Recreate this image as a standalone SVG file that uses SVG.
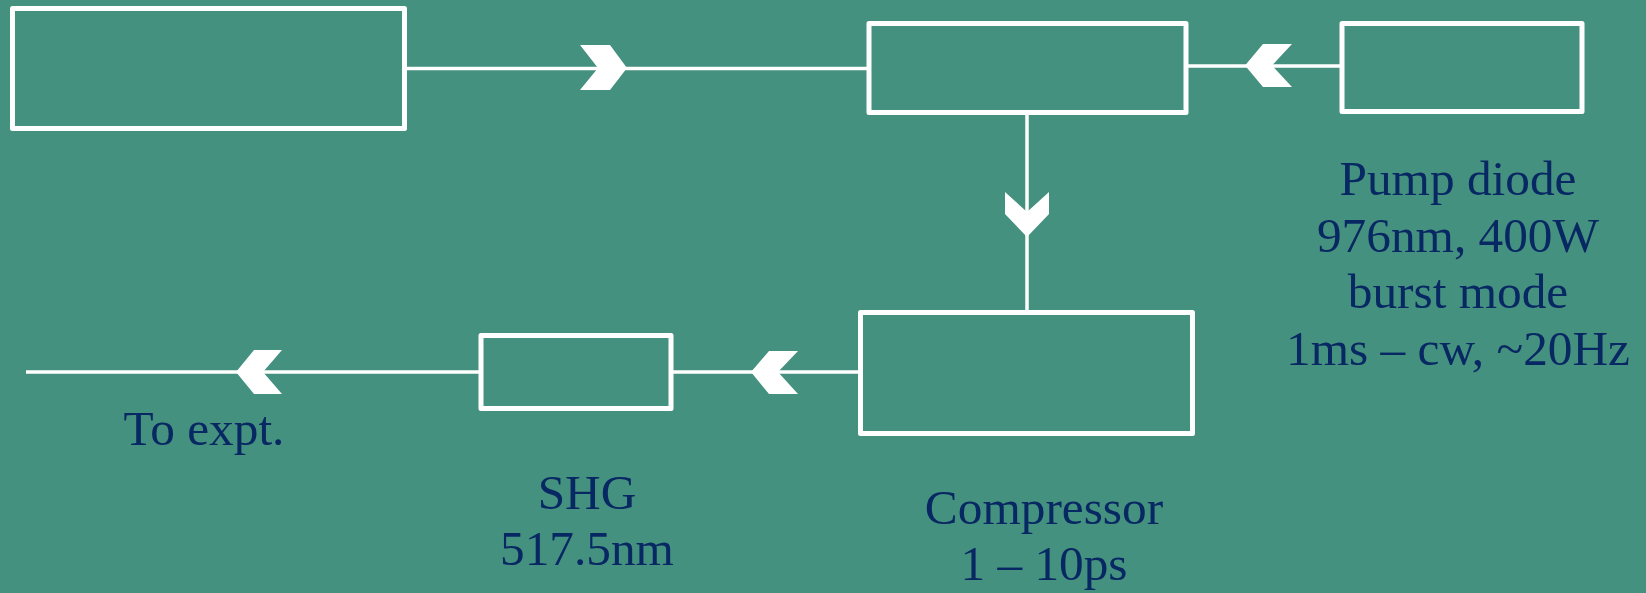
<svg xmlns="http://www.w3.org/2000/svg" width="1646" height="593" viewBox="0 0 1646 593">
<style>
.box{fill:none;stroke:#ffffff;stroke-width:5;stroke-linejoin:round}
.ln{stroke:#ffffff;stroke-width:3.5;fill:none}
.hd{fill:#ffffff}
.t{font-family:"Liberation Serif","DejaVu Serif",serif;font-size:49.3px;fill:#082863;text-anchor:middle}
</style>
<rect x="0" y="0" width="1646" height="593" fill="#45917f"/>
<g id="connectors">
<line class="ln" x1="405" y1="68.5" x2="867" y2="68.5"/>
<path class="hd" d="M580,45 L610,45 L627,68 L610,90 L580,90 L598,68 Z"/>
<line class="ln" x1="1187" y1="66" x2="1340" y2="66"/>
<path class="hd" d="M1292,44 L1263,44 L1245,65.5 L1263,87 L1292,87 L1272,65.5 Z"/>
<line class="ln" x1="1027" y1="112" x2="1027" y2="310"/>
<path class="hd" d="M1005,192 L1027,212 L1049,192 L1049,214 L1027,237 L1005,214 Z"/>
<line class="ln" x1="672" y1="372" x2="858" y2="372"/>
<path class="hd" d="M798,351 L769,351 L751,372 L769,394 L798,394 L778,372 Z"/>
<line class="ln" x1="26" y1="372" x2="480" y2="372"/>
<path class="hd" d="M282,350 L254,350 L236,372 L254,394 L282,394 L263,372 Z"/>
</g>
<g id="box1"><rect class="box" x="12.5" y="8.5" width="392" height="120"/></g>
<g id="box2"><rect class="box" x="869" y="23.5" width="317" height="89"/></g>
<g id="pump"><rect class="box" x="1342" y="23.5" width="240" height="88"/>
<text class="t" x="1458" y="195">Pump diode</text>
<text class="t" x="1458" y="252">976nm, 400W</text>
<text class="t" x="1458" y="308">burst mode</text>
<text class="t" x="1458" y="365">1ms – cw, ~20Hz</text>
</g>
<g id="compressor"><rect class="box" x="860.5" y="312.5" width="332" height="121"/>
<text class="t" x="1044" y="524">Compressor</text>
<text class="t" x="1044" y="580">1 – 10ps</text>
</g>
<g id="shg"><rect class="box" x="481" y="335.5" width="190" height="73"/>
<text class="t" x="587" y="509">SHG</text>
<text class="t" x="587" y="565">517.5nm</text>
</g>
<g id="expt"><text class="t" x="204" y="445">To expt.</text></g>
</svg>
